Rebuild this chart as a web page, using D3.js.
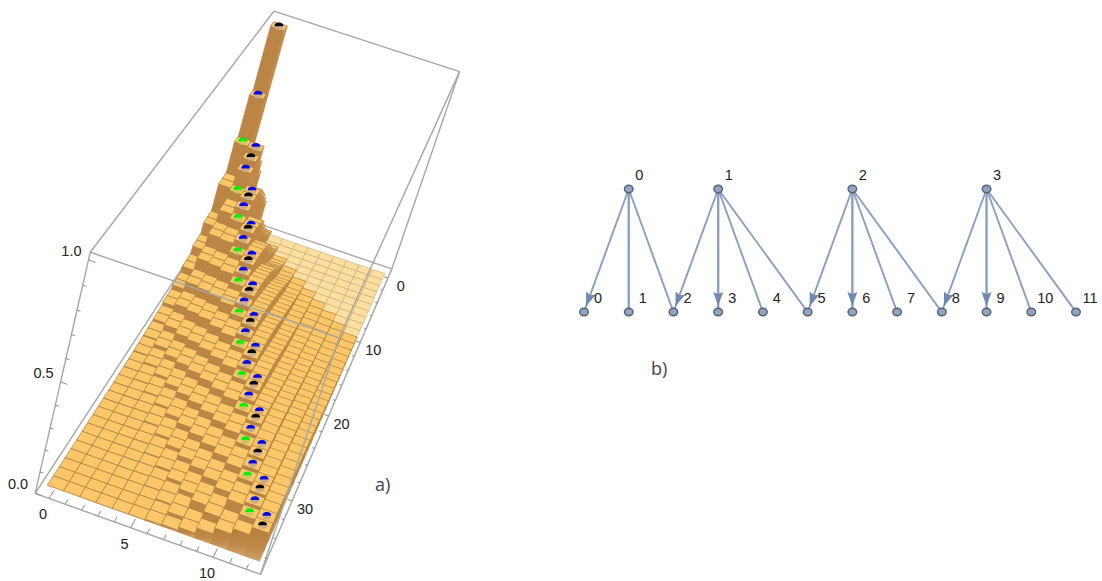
<!DOCTYPE html>
<html><head><meta charset="utf-8">
<script src="https://cdn.jsdelivr.net/npm/d3@7"></script>
<style>html,body{margin:0;padding:0;background:#fff}svg{display:block}text{font-family:"Liberation Sans",Arial,sans-serif}</style>
</head><body><svg id="c" width="1102" height="581"></svg>
<script>
// Bar heights in percent, one array per column, rows 0..36
const col0=[101,70,49,33,33,19,19,13,13,9,9,6,6,4,4,2.5,2.5,1.5,1.5,1,1,.6,.6,.4,.4,.3,.3,.2,.2,.2,.2,.2,.2,.2,.2,.2,.2];
const col1=[30,38,48.5,46,43,35,31,31,25,25,19,19,13.5,13.5,9,9,5.5,5.5,3,3,1.5,1.5,.8,.8,.5,.5,.3,.3,.2,.2,.2,.2,.2,.2,.2,.2,.2];
const col2=[16,21,26,30,34,37,37,35,32,28,28,22,22,16.5,16.5,12,12,7.5,7.5,4.2,4.2,2.2,2.2,1.1,1.1,.6,.6,.4,.4,.3,.3,.2,.2,.2,.2,.2,.2];
const col3=[2,4.5,8,12,16,21,26,29.5,31,32,30,27,24.5,24.5,19.5,19.5,15,15,10.5,10.5,6.8,6.8,3.8,3.8,1.9,1.9,1,1,.5,.5,.3,.3,.2,.2,.2,.2,.2];
const col4=[0,0,2,4,7,10.5,15,19,22.8,25,26.5,27.5,28,26,24,21.3,21.3,16.8,16.8,12.9,12.9,9.2,9.2,5.9,5.9,3.3,3.3,1.7,1.7,.8,.8,.4,.4,.3,.3,.2,.2];
const col5=[0,0,0,1,2.5,4.5,7,10,13,16,18.2,20.2,22,23.5,24.5,25,23.2,21.2,19,19,15,15,11.5,11.5,8.3,8.3,5.3,5.3,3,3,1.5,1.5,.7,.7,.4,.4,.3];
const col6=[0,0,0,0,.8,1.8,3.2,5,7.2,9.4,11.4,13.2,14.9,16.6,18.2,19.7,21,22,22.5,21,19,17.1,17.1,13.5,13.5,10.4,10.4,7.4,7.4,4.7,4.7,2.7,2.7,1.3,1.3,.7,.7];
const col7=[0,0,0,0,0,.4,1,1.8,2.9,4.6,6.3,7.7,9.2,10.8,12.4,14,15.6,17,18.2,19.2,20,20.5,19,17.4,15.6,15.6,12.3,12.3,9.4,9.4,6.8,6.8,4.3,4.3,2.4,2.4,1];
const col8=[0,0,0,0,0,0,.2,.6,1.2,1.9,2.7,3.6,4.6,5.7,6.9,8.2,9.6,11,12.5,14,15.5,16.7,17.7,18.5,19,17.7,16.2,14.4,14.4,11.4,11.4,8.7,8.7,6.2,6.2,2.4,2.4];
const col9=[0,0,0,0,0,0,0,.1,.25,.5,.9,1.4,2,2.7,3.5,4.3,5.2,6.2,7.3,8.4,9.6,10.8,12,13.2,14.4,15.5,16.7,17.5,16.3,14.9,13.3,13.3,10.5,10.5,8,8,4.8];
const col10=[0,0,0,0,0,0,0,0,.15,.3,.6,1,1.5,2.1,2.8,3.5,4.3,5.2,6.2,7.2,8.3,9.4,10.5,11.6,12.6,13.5,14.3,15,15.5,15.8,16,14.9,13.6,12,12,7.5,7.5];
const col11=[0,0,0,0,0,0,0,0,0,.15,.3,.5,.9,1.3,1.8,2.4,3,3.7,4.5,5.3,6.2,7.1,8,8.9,9.8,10.6,11.4,12.1,12.7,13.2,13.7,14,14.3,14.5,13.5,12.3,10];
const col12=[0,0,0,0,0,0,0,0,0,0,.15,.3,.6,.9,1.3,1.7,2.2,2.8,3.4,4.1,4.9,5.7,6.5,7.3,8,8.7,9.4,10,10.5,11,11.5,11.9,12.3,12.7,13,13.3,13.5];
const columns=[col0,col1,col2,col3,col4,col5,col6,col7,col8,col9,col10,col11,col12];
// marked cells [column,row]
const blackCells=[[0,0],[1,3],[2,6],[3,9],[4,12],[5,15],[6,18],[7,21],[8,24],[9,27],[10,30],[11,33],[12,36]];
const blueCells=[[0,1],[1,2],[1,4],[2,5],[2,7],[3,8],[3,10],[4,11],[4,13],[5,14],[5,16],[6,17],[6,19],[7,20],[7,22],[8,23],[8,25],[9,26],[9,28],[10,29],[10,31],[11,32],[11,34],[12,35]];
const greenCells=[[0,2],[1,5],[2,8],[3,11],[4,14],[5,17],[6,20],[7,23],[8,26],[9,29],[10,32],[11,35]];
// graph
const parents=["0","1","2","3"];
const children=["0","1","2","3","4","5","6","7","8","9","10","11"];
const parentOver=[1,3,6,9];
const edges=[[0,0,1],[0,1,0],[0,2,0],[1,2,1],[1,3,1],[1,4,0],[1,5,0],[2,5,1],[2,6,1],[2,7,0],[2,8,0],[3,8,1],[3,9,1],[3,10,0],[3,11,0]];
const xTickLabels=[0,5,10], yTickLabels=[0,10,20,30], zTickLabels=[0,.5,1];

const svg=d3.select("#c");
const grad=svg.append("defs").append("linearGradient").attr("id","frontFace").attr("x1",0).attr("y1",0).attr("x2",0).attr("y2",1);
grad.append("stop").attr("offset","0%").attr("stop-color","#b67f3e");
grad.append("stop").attr("offset","55%").attr("stop-color","#bd8847");
grad.append("stop").attr("offset","100%").attr("stop-color","#cfa16b");
const sx=d3.scaleLinear().domain([-.85,12.85]).range([0,1]);
const sy=d3.scaleLinear().domain([-1.55,37.55]).range([0,1]);
const sz=d3.scaleLinear().domain([0,103]).range([0,1]);
const xEnd=sx.domain(),yEnd=sy.domain();
// screen positions of the eight bounding-box corners: [X,Y,Z,u,v]
const corners=[[0,1,0,35,492],[1,1,0,260,575],[1,0,0,393,268],[0,0,0,219,212],[0,1,1,90,253],[1,1,1,340,338],[1,0,1,458,72],[0,0,1,275,10]];
function fit(pts){
  const A=[],b=[];
  pts.forEach(([X,Y,Z,u,v])=>{A.push([X,Y,Z,1,0,0,0,0,-u*X,-u*Y,-u*Z]);b.push(u);A.push([0,0,0,0,X,Y,Z,1,-v*X,-v*Y,-v*Z]);b.push(v);});
  const n=11,M=d3.range(n).map(r=>d3.range(n+1).map(c=>d3.sum(A,(row,k)=>row[r]*(c<n?row[c]:b[k]))));
  for(let c=0;c<n;c++){let p=c;for(let r=c+1;r<n;r++)if(Math.abs(M[r][c])>Math.abs(M[p][c]))p=r;[M[c],M[p]]=[M[p],M[c]];
    for(let r=0;r<n;r++)if(r!==c){const f=M[r][c]/M[c][c];for(let k=c;k<=n;k++)M[r][k]-=f*M[c][k];}}
  return M.map((r,i)=>r[n]/r[i]);
}
const P=fit(corners);
function raw(X,Y,Z){const w=P[8]*X+P[9]*Y+P[10]*Z+1;return[(P[0]*X+P[1]*Y+P[2]*Z+P[3])/w,(P[4]*X+P[5]*Y+P[6]*Z+P[7])/w];}
const proj=(i,j,h)=>raw(sx(i),sy(j),sz(h));
const poly=d3.line();

const boxStyle=s=>s.attr("stroke","#a6a6a6").attr("stroke-width",1.4).attr("fill","none");
const edge=(a,b)=>poly([raw(...a),raw(...b)]);
const g=svg.append("g");
[[[0,1,0],[0,0,0]],[[0,0,0],[1,0,0]],[[1,0,0],[1,0,1]]].forEach(([a,b])=>g.append("path").attr("d",edge(a,b)).call(boxStyle));

const key=(i,j)=>i+"_"+j;
const marks=new Map();
blackCells.forEach(([i,j])=>marks.set(key(i,j),["#000","#c9ad8e"]));
blueCells.forEach(([i,j])=>marks.set(key(i,j),["#0000f0","#c9ab90"]));
greenCells.forEach(([i,j])=>marks.set(key(i,j),["#00ee00","#c6c860"]));
const arcUp=d3.arc().innerRadius(0).startAngle(-Math.PI/2).endAngle(Math.PI/2);
const arcDn=d3.arc().innerRadius(0).startAngle(Math.PI/2).endAngle(Math.PI*1.5);
const bars=g.append("g").style("filter","blur(0.4px)");
for(let j=0;j<37;j++)for(let i=0;i<13;i++){
  const h=columns[i][j],x0=i-.5,x1=i+.5,y0=j-.5,y1=j+.5;
  const b=bars.append("g");
  if(h>0){
    b.append("path").attr("d",poly([proj(x1,y0,h),proj(x1,y1,h),proj(x1,y1,0),proj(x1,y0,0)])+"Z").attr("fill","#c08a49").attr("stroke","#c08a49").attr("stroke-width",.4);
    const front=j===36?"url(#frontFace)":"#bb8546";
    b.append("path").attr("d",poly([proj(x0,y1,h),proj(x1,y1,h),proj(x1,y1,0),proj(x0,y1,0)])+"Z").attr("fill",front).attr("stroke",j===36?"none":front).attr("stroke-width",.4);
  }
  b.append("path").attr("d",poly([proj(x0,y0,h),proj(x1,y0,h),proj(x1,y1,h),proj(x0,y1,h)])+"Z")
    .attr("fill",h>0?"#fcc768":"#fedf9f").attr("stroke",h>0?"#a07a42":"#c9ad7a").attr("stroke-width",.65);
  const m=marks.get(key(i,j));
  if(m){const [cx,cy]=proj(i,j,h);
    b.append("path").attr("d",arcDn({outerRadius:4.4})).attr("transform",`translate(${cx},${cy}) scale(1,.85)`).attr("fill",m[1]);
    b.append("path").attr("d",arcUp({outerRadius:4.4})).attr("transform",`translate(${cx},${cy}) scale(1,.85)`).attr("fill",m[0]);
  }
}
[[[0,1,0],[1,1,0]],[[1,1,0],[1,0,0]],[[0,1,0],[0,1,1]],[[1,1,0],[1,1,1]],[[0,1,1],[1,1,1]],[[1,1,1],[1,0,1]],[[1,0,1],[0,0,1]],[[0,0,1],[0,1,1]]]
 .forEach(([a,b])=>g.append("path").attr("d",edge(a,b)).call(boxStyle));

const tick=(a,b)=>g.append("path").attr("d",poly([a,b])).attr("stroke","#8c8c8c").attr("stroke-width",1).attr("fill","none");
const label=(t,p,dx,dy,anc)=>g.append("text").attr("x",p[0]+dx).attr("y",p[1]+dy).attr("text-anchor",anc||"middle").attr("font-size",14.5).attr("fill","#222").text(t);
d3.range(0,13).forEach(i=>{const maj=i%5==0;tick(proj(i,yEnd[1],0),proj(i,yEnd[1]-(maj?.9:.5),0));});
d3.range(0,37,2).forEach(j=>{const maj=j%10==0;tick(proj(xEnd[1],j,0),proj(xEnd[1]-(maj?.3:.16),j,0));});
d3.range(0,1.001,.1).forEach(z=>{const maj=Math.round(z*10)%5==0;tick(proj(xEnd[0],yEnd[1],z*100),proj(xEnd[0]+(maj?.4:.2),yEnd[1],z*100));});
xTickLabels.forEach(v=>label(v,proj(v,yEnd[1],0),-6,21));
yTickLabels.forEach(v=>label(v,proj(xEnd[1],v,0),13,13));
zTickLabels.forEach(v=>label(v.toFixed(1),proj(xEnd[0],yEnd[1],v*100),-7,-4,"end"));
const caption=(t,x,y)=>svg.append("text").attr("x",x).attr("y",y).attr("font-size",18).attr("fill","#444").attr("style",'font-family:"Open Sans",sans-serif').text(t);
caption("a)",375,491);caption("b)",651,375);

const gx=d3.scalePoint().domain(d3.range(12)).range([584,1076]);
const yTop=189,yBot=312;
const G=svg.append("g");
const pX=p=>gx(parentOver[p]);
edges.forEach(([p,c,arrow])=>{
  const x1=pX(p),x2=gx(c),dx=x2-x1,dy=yBot-yTop,L=Math.hypot(dx,dy),ux=dx/L,uy=dy/L;
  const vert=Math.abs(dx)<1;
  G.append("path").attr("d",poly([[x1,yTop],[x2-ux*3,yBot-uy*3]])).attr("stroke","#8a9fc1").attr("stroke-width",vert?2.4:1.9).attr("fill","none");
  if(arrow){const tipX=x2-ux*6,tipY=yBot-uy*6,bx=tipX-ux*14,by=tipY-uy*14,nx=-uy,ny=ux;
    G.append("path").attr("d",poly([[tipX,tipY],[bx+nx*5,by+ny*5],[bx+ux*2,by+uy*2],[bx-nx*5,by-ny*5]])+"Z").attr("fill","#6f89b0");}
});
const node=(x,y)=>G.append("ellipse").attr("cx",x).attr("cy",y).attr("rx",4.3).attr("ry",3.7).attr("fill","#8fa5c5").attr("stroke","#5a5f68").attr("stroke-width",1.4);
parents.forEach((t,p)=>node(pX(p),yTop));
children.forEach((t,c)=>node(gx(c),yBot));
const glabel=(t,x,y)=>G.append("text").attr("x",x).attr("y",y).attr("text-anchor","middle").attr("font-size",14.5).attr("fill","#222").text(t);
parents.forEach((t,p)=>glabel(t,pX(p)+10.5,yTop-9));
children.forEach((t,c)=>glabel(t,gx(c)+14,yBot-9));
</script></body></html>
